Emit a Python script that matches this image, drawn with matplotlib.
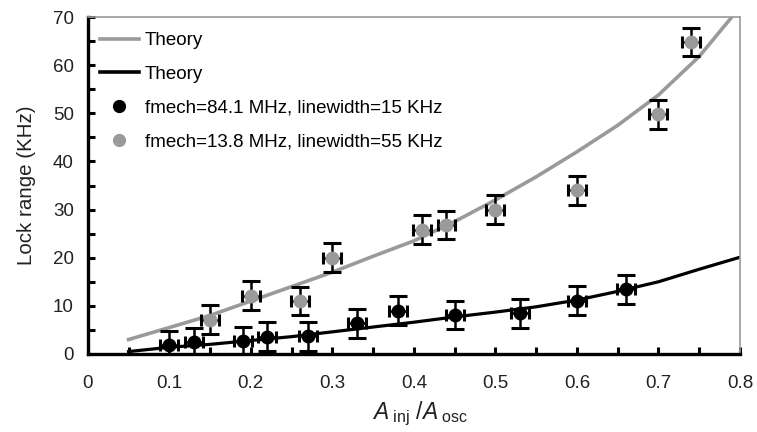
import matplotlib
matplotlib.use("Agg")
import matplotlib.pyplot as plt
from matplotlib.ticker import MultipleLocator
from matplotlib.lines import Line2D

plt.rcParams['font.family'] = ['Liberation Sans', 'DejaVu Sans']
plt.rcParams['mathtext.fontset'] = 'custom'
plt.rcParams['mathtext.rm'] = 'Liberation Sans'
plt.rcParams['mathtext.it'] = 'Liberation Sans:italic'

# Theory curves
theory_x = [0.05, 0.10, 0.15, 0.20, 0.25, 0.30, 0.35, 0.40, 0.45, 0.50,
            0.55, 0.60, 0.65, 0.70, 0.75, 0.79]
theory_gray = [3.0, 5.5, 8.0, 11.0, 14.0, 17.0, 20.3, 23.5, 27.5, 32.0,
               36.8, 42.0, 47.5, 53.8, 61.8, 70.0]
theory_bx = [0.05, 0.10, 0.15, 0.20, 0.25, 0.30, 0.35, 0.40, 0.45, 0.50,
             0.55, 0.60, 0.65, 0.70, 0.75, 0.80]
theory_black = [0.5, 1.4, 2.0, 2.8, 3.6, 4.6, 5.6, 6.6, 7.7, 8.7,
                9.8, 11.2, 13.0, 15.0, 17.6, 20.1]

# Measured data: fmech = 84.1 MHz (black)
black_x = [0.10, 0.13, 0.19, 0.22, 0.27, 0.33, 0.38, 0.45, 0.53, 0.60, 0.66]
black_y = [1.8, 2.4, 2.7, 3.6, 3.7, 6.4, 9.0, 8.1, 8.5, 11.1, 13.4]
black_yerr = [3.0, 3.0, 3.0, 3.0, 3.0, 3.0, 3.0, 3.0, 3.0, 3.0, 3.0]
black_xerr = [0.011] * 11

# Measured data: fmech = 13.8 MHz (gray)
gray_x = [0.15, 0.20, 0.26, 0.30, 0.41, 0.44, 0.50, 0.60, 0.70, 0.74]
gray_y = [7.1, 12.1, 11.0, 20.0, 25.8, 26.8, 30.0, 34.0, 49.8, 64.8]
gray_yerr = [3.0] * 10
gray_xerr = [0.011] * 10

GRAY = '#9a9a9a'

fig = plt.figure(figsize=(7.57, 4.32), dpi=100)
ax = fig.add_axes([0.116, 0.1806, 0.8615, 0.78])

ax.plot(theory_x, theory_gray, color=GRAY, lw=2.6, zorder=2)
ax.plot(theory_bx, theory_black, color='black', lw=2.3, zorder=2)

for xs, ys, xe, ye, c in [(black_x, black_y, black_xerr, black_yerr, 'black'),
                          (gray_x, gray_y, gray_xerr, gray_yerr, GRAY)]:
    ax.errorbar(xs, ys, yerr=ye, fmt='none', ecolor='black', elinewidth=1.8,
                capsize=6.5, capthick=2.2, zorder=3)
    ax.errorbar(xs, ys, xerr=xe, fmt='none', ecolor='black', elinewidth=1.8,
                capsize=4.5, capthick=2.2, zorder=3)
    ax.plot(xs, ys, 'o', color=c, ms=9, zorder=4)

ax.set_xlim(0, 0.8)
ax.set_ylim(0, 70)
ax.xaxis.set_major_locator(MultipleLocator(0.1))
ax.xaxis.set_minor_locator(MultipleLocator(0.05))
ax.yaxis.set_major_locator(MultipleLocator(10))
ax.yaxis.set_minor_locator(MultipleLocator(5))
ax.xaxis.set_major_formatter(plt.FuncFormatter(lambda v, p: '0' if abs(v) < 1e-9 else f'{v:.1f}'))

ax.tick_params(which='both', direction='in', length=5, width=2.2, color='black',
               labelsize=13.5, labelcolor='#222222', top=False, right=False)
ax.tick_params(axis='x', which='major', pad=15)
ax.tick_params(axis='y', which='major', pad=10)

for s in ['left', 'bottom']:
    ax.spines[s].set_linewidth(2.4)
    ax.spines[s].set_color('black')
for s in ['top', 'right']:
    ax.spines[s].set_linewidth(1.2)
    ax.spines[s].set_color(GRAY)

ax.set_ylabel('Lock range (KHz)', fontsize=14.8, color='#222222', labelpad=12)
ax.set_xlabel(r'$\mathit{A}_{\rm\ inj}\ /\mathit{A}_{\rm\ osc}$', fontsize=16.5,
              color='#222222', labelpad=3)
ax.xaxis.set_label_coords(0.51, -0.135)

handles = [
    Line2D([], [], color=GRAY, lw=2.6),
    Line2D([], [], color='black', lw=2.6),
    Line2D([], [], color='black', marker='o', ls='none', ms=8.5),
    Line2D([], [], color=GRAY, marker='o', ls='none', ms=8.5),
]
labels = ['Theory', 'Theory', 'fmech=84.1 MHz, linewidth=15 KHz',
          'fmech=13.8 MHz, linewidth=55 KHz']
ax.legend(handles, labels, loc='upper left', bbox_to_anchor=(0.018, 0.955),
          frameon=False, fontsize=13.5, handlelength=2.1, handletextpad=0.3,
          labelspacing=0.88, borderaxespad=0, borderpad=0)

fig.savefig('out.png', dpi=100)
